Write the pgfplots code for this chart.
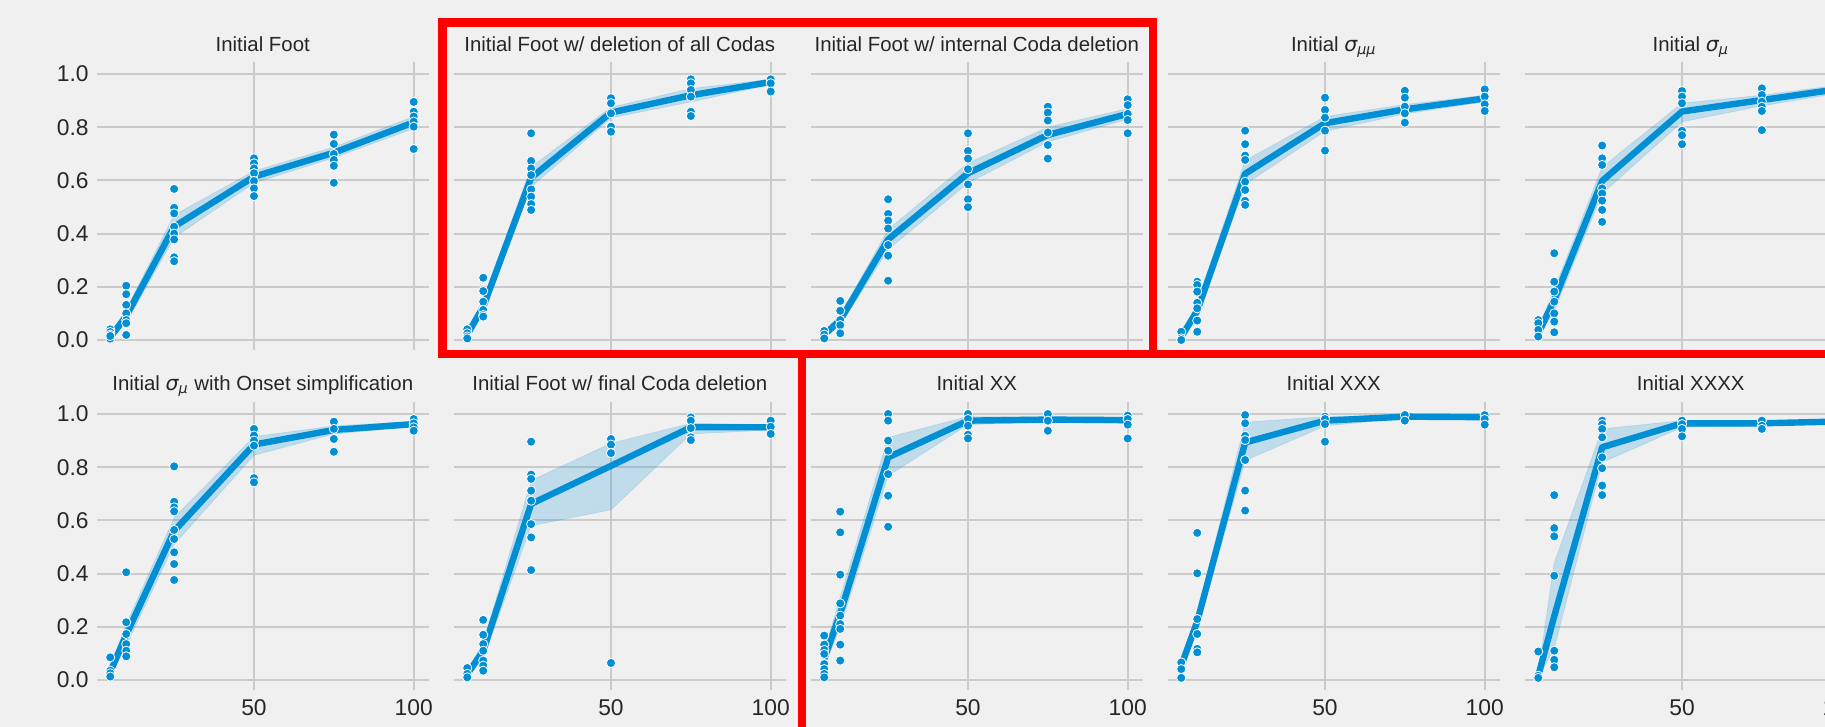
\documentclass[border=0pt]{standalone}
\usepackage{fontspec}
\setmainfont{Liberation Sans}
\newfontfamily\dejavu{DejaVu Sans}
\usepackage{pgfplots}
\pgfplotsset{compat=1.18}
\usepackage{pgfplotstable}
\definecolor{bg}{HTML}{F0F0F0}
\definecolor{b538}{HTML}{008FD5}
\definecolor{gridc}{HTML}{CBCBCB}
\definecolor{txt}{HTML}{262626}
\definecolor{redbox}{HTML}{FF0000}
\newcommand\sig[1]{{\dejavu\itshape σ}\textsubscript{\dejavu\itshape #1}}

\pgfplotsset{
 every axis title/.style={at={(0.5,1)}, anchor=base, yshift=5pt,
   font=\fontsize{10.2}{12}\selectfont, text=txt},
 panel/.style={
   scale only axis, width=165.75pt, height=144pt,
   xmin=0.85, xmax=104.64, ymin=-0.0376, ymax=1.0451,
   axis line style={draw=none}, tick style={draw=none}, major tick length=0pt,
   grid=major, grid style={draw=gridc, line width=1pt},
   xtick={50,100}, ytick={0,0.2,0.4,0.6,0.8,1.0},
   xticklabels={}, yticklabels={},
   tick label style={font=\fontsize{11.4}{13}\selectfont, text=txt},
   anchor=south west,
 },
 ylab/.style={yticklabels={0.0,0.2,0.4,0.6,0.8,1.0}, yticklabel style={xshift=-0.7pt}},
 xlab/.style={xticklabels={50,100}, xticklabel style={yshift=-1.2pt}},
 bottomtitle/.style={title style={yshift=0.5pt}},
}

% ---------- data: mean line ----------
\pgfplotstableread[row sep=\\]{x m\\ 5 0.010\\ 10 0.090\\ 25 0.426\\ 50 0.614\\ 75 0.704\\ 100 0.818\\}\mA
\pgfplotstableread[row sep=\\]{x m\\ 5 0.020\\ 10 0.125\\ 25 0.610\\ 50 0.855\\ 75 0.920\\ 100 0.970\\}\mB
\pgfplotstableread[row sep=\\]{x m\\ 5 0.020\\ 10 0.075\\ 25 0.378\\ 50 0.627\\ 75 0.771\\ 100 0.850\\}\mC
\pgfplotstableread[row sep=\\]{x m\\ 5 0.012\\ 10 0.110\\ 25 0.625\\ 50 0.815\\ 75 0.867\\ 100 0.908\\}\mD
\pgfplotstableread[row sep=\\]{x m\\ 5 0.025\\ 10 0.150\\ 25 0.598\\ 50 0.859\\ 75 0.902\\ 100 0.945\\}\mE
\pgfplotstableread[row sep=\\]{x m\\ 5 0.030\\ 10 0.170\\ 25 0.560\\ 50 0.885\\ 75 0.940\\ 100 0.962\\}\mF
\pgfplotstableread[row sep=\\]{x m\\ 5 0.022\\ 10 0.110\\ 25 0.662\\ 50 0.805\\ 75 0.950\\ 100 0.950\\}\mG
\pgfplotstableread[row sep=\\]{x m\\ 5 0.080\\ 10 0.250\\ 25 0.837\\ 50 0.975\\ 75 0.979\\ 100 0.977\\}\mH
\pgfplotstableread[row sep=\\]{x m\\ 5 0.054\\ 10 0.220\\ 25 0.893\\ 50 0.975\\ 75 0.990\\ 100 0.988\\}\mI
\pgfplotstableread[row sep=\\]{x m\\ 5 0.016\\ 10 0.240\\ 25 0.875\\ 50 0.965\\ 75 0.965\\ 100 0.972\\}\mJ

% ---------- data: 95% band (lower edge left to right, upper edge right to left) ----------
\pgfplotstableread[row sep=\\]{x y\\ 5 0.003\\ 10 0.065\\ 25 0.385\\ 50 0.590\\ 75 0.685\\ 100 0.795\\ 100 0.840\\ 75 0.725\\ 50 0.635\\ 25 0.470\\ 10 0.115\\ 5 0.020\\}\bA
\pgfplotstableread[row sep=\\]{x y\\ 5 0.010\\ 10 0.105\\ 25 0.575\\ 50 0.835\\ 75 0.895\\ 100 0.960\\ 100 0.980\\ 75 0.945\\ 50 0.875\\ 25 0.650\\ 10 0.150\\ 5 0.030\\}\bB
\pgfplotstableread[row sep=\\]{x y\\ 5 0.008\\ 10 0.055\\ 25 0.340\\ 50 0.590\\ 75 0.745\\ 100 0.830\\ 100 0.870\\ 75 0.800\\ 50 0.665\\ 25 0.415\\ 10 0.095\\ 5 0.030\\}\bC
\pgfplotstableread[row sep=\\]{x y\\ 5 0.004\\ 10 0.080\\ 25 0.585\\ 50 0.785\\ 75 0.850\\ 100 0.895\\ 100 0.920\\ 75 0.885\\ 50 0.840\\ 25 0.675\\ 10 0.140\\ 5 0.020\\}\bD
\pgfplotstableread[row sep=\\]{x y\\ 5 0.010\\ 10 0.110\\ 25 0.550\\ 50 0.820\\ 75 0.880\\ 100 0.930\\ 100 0.960\\ 75 0.920\\ 50 0.890\\ 25 0.650\\ 10 0.190\\ 5 0.045\\}\bE
\pgfplotstableread[row sep=\\]{x y\\ 5 0.015\\ 10 0.130\\ 25 0.510\\ 50 0.845\\ 75 0.925\\ 100 0.953\\ 100 0.972\\ 75 0.955\\ 50 0.915\\ 25 0.610\\ 10 0.210\\ 5 0.050\\}\bF
\pgfplotstableread[row sep=\\]{x y\\ 5 0.010\\ 10 0.080\\ 25 0.580\\ 50 0.640\\ 75 0.925\\ 100 0.940\\ 100 0.960\\ 75 0.965\\ 50 0.890\\ 25 0.750\\ 10 0.140\\ 5 0.035\\}\bG
\pgfplotstableread[row sep=\\]{x y\\ 5 0.050\\ 10 0.200\\ 25 0.768\\ 50 0.960\\ 75 0.970\\ 100 0.965\\ 100 0.988\\ 75 0.988\\ 50 0.990\\ 25 0.912\\ 10 0.310\\ 5 0.110\\}\bH
\pgfplotstableread[row sep=\\]{x y\\ 5 0.035\\ 10 0.190\\ 25 0.825\\ 50 0.955\\ 75 0.985\\ 100 0.980\\ 100 0.995\\ 75 0.996\\ 50 0.990\\ 25 0.969\\ 10 0.250\\ 5 0.070\\}\bI
\pgfplotstableread[row sep=\\]{x y\\ 5 0.008\\ 10 0.120\\ 25 0.818\\ 50 0.950\\ 75 0.955\\ 100 0.965\\ 100 0.980\\ 75 0.972\\ 50 0.975\\ 25 0.944\\ 10 0.440\\ 5 0.030\\}\bJ

% ---------- data: individual runs ----------
\pgfplotstableread[row sep=\\]{x y\\ 5 0.040\\ 5 0.030\\ 5 0.020\\ 5 0.010\\ 5 0.005\\ 5 0.015\\
10 0.204\\ 10 0.172\\ 10 0.132\\ 10 0.100\\ 10 0.075\\ 10 0.063\\ 10 0.019\\
25 0.568\\ 25 0.497\\ 25 0.476\\ 25 0.426\\ 25 0.400\\ 25 0.378\\ 25 0.311\\ 25 0.296\\
50 0.683\\ 50 0.664\\ 50 0.645\\ 50 0.627\\ 50 0.598\\ 50 0.570\\ 50 0.541\\
75 0.772\\ 75 0.737\\ 75 0.699\\ 75 0.677\\ 75 0.655\\ 75 0.591\\
100 0.895\\ 100 0.858\\ 100 0.840\\ 100 0.821\\ 100 0.802\\ 100 0.718\\}\pA
\pgfplotstableread[row sep=\\]{x y\\ 5 0.040\\ 5 0.025\\ 5 0.013\\ 5 0.006\\
10 0.234\\ 10 0.184\\ 10 0.144\\ 10 0.113\\ 10 0.094\\ 10 0.088\\
25 0.777\\ 25 0.673\\ 25 0.645\\ 25 0.620\\ 25 0.566\\ 25 0.539\\ 25 0.511\\ 25 0.489\\
50 0.909\\ 50 0.890\\ 50 0.852\\ 50 0.802\\ 50 0.783\\
75 0.980\\ 75 0.965\\ 75 0.940\\ 75 0.915\\ 75 0.858\\ 75 0.842\\
100 0.980\\ 100 0.965\\ 100 0.934\\}\pB
\pgfplotstableread[row sep=\\]{x y\\ 5 0.034\\ 5 0.020\\ 5 0.006\\
10 0.147\\ 10 0.110\\ 10 0.075\\ 10 0.056\\ 10 0.025\\
25 0.529\\ 25 0.474\\ 25 0.449\\ 25 0.419\\ 25 0.357\\ 25 0.317\\ 25 0.223\\
50 0.777\\ 50 0.711\\ 50 0.682\\ 50 0.642\\ 50 0.585\\ 50 0.529\\ 50 0.499\\
75 0.877\\ 75 0.855\\ 75 0.825\\ 75 0.780\\ 75 0.733\\ 75 0.682\\
100 0.905\\ 100 0.883\\ 100 0.850\\ 100 0.827\\ 100 0.777\\}\pC
\pgfplotstableread[row sep=\\]{x y\\ 5 0.031\\ 5 0.006\\ 5 0.000\\
10 0.219\\ 10 0.207\\ 10 0.182\\ 10 0.140\\ 10 0.119\\ 10 0.073\\ 10 0.031\\
25 0.787\\ 25 0.736\\ 25 0.693\\ 25 0.677\\ 25 0.595\\ 25 0.564\\ 25 0.523\\ 25 0.508\\
50 0.911\\ 50 0.865\\ 50 0.836\\ 50 0.787\\ 50 0.712\\
75 0.937\\ 75 0.911\\ 75 0.877\\ 75 0.852\\ 75 0.817\\
100 0.942\\ 100 0.915\\ 100 0.886\\ 100 0.861\\}\pD
\pgfplotstableread[row sep=\\]{x y\\ 5 0.075\\ 5 0.063\\ 5 0.038\\ 5 0.013\\
10 0.326\\ 10 0.219\\ 10 0.182\\ 10 0.144\\ 10 0.100\\ 10 0.069\\ 10 0.029\\
25 0.731\\ 25 0.683\\ 25 0.658\\ 25 0.570\\ 25 0.551\\ 25 0.524\\ 25 0.489\\ 25 0.444\\
50 0.936\\ 50 0.915\\ 50 0.890\\ 50 0.787\\ 50 0.770\\ 50 0.736\\
75 0.946\\ 75 0.921\\ 75 0.896\\ 75 0.877\\ 75 0.861\\ 75 0.789\\
100 0.970\\ 100 0.950\\ 100 0.930\\}\pE
\pgfplotstableread[row sep=\\]{x y\\ 5 0.085\\ 5 0.035\\ 5 0.025\\ 5 0.013\\
10 0.405\\ 10 0.217\\ 10 0.173\\ 10 0.135\\ 10 0.110\\ 10 0.089\\
25 0.803\\ 25 0.670\\ 25 0.649\\ 25 0.634\\ 25 0.564\\ 25 0.530\\ 25 0.480\\ 25 0.436\\ 25 0.376\\
50 0.944\\ 50 0.919\\ 50 0.900\\ 50 0.881\\ 50 0.759\\ 50 0.743\\
75 0.971\\ 75 0.944\\ 75 0.906\\ 75 0.858\\
100 0.981\\ 100 0.965\\ 100 0.950\\ 100 0.937\\}\pF
\pgfplotstableread[row sep=\\]{x y\\ 5 0.045\\ 5 0.023\\ 5 0.010\\
10 0.226\\ 10 0.170\\ 10 0.135\\ 10 0.110\\ 10 0.073\\ 10 0.054\\ 10 0.035\\
25 0.896\\ 25 0.772\\ 25 0.756\\ 25 0.712\\ 25 0.674\\ 25 0.586\\ 25 0.536\\ 25 0.413\\
50 0.906\\ 50 0.885\\ 50 0.853\\ 50 0.064\\
75 0.987\\ 75 0.975\\ 75 0.947\\ 75 0.912\\ 75 0.902\\
100 0.975\\ 100 0.952\\ 100 0.925\\}\pG
\pgfplotstableread[row sep=\\]{x y\\ 5 0.167\\ 5 0.133\\ 5 0.113\\ 5 0.098\\ 5 0.060\\ 5 0.041\\ 5 0.023\\ 5 0.010\\
10 0.633\\ 10 0.555\\ 10 0.396\\ 10 0.288\\ 10 0.242\\ 10 0.210\\ 10 0.192\\ 10 0.133\\ 10 0.073\\
25 1.000\\ 25 0.975\\ 25 0.900\\ 25 0.862\\ 25 0.774\\ 25 0.693\\ 25 0.576\\
50 1.000\\ 50 0.981\\ 50 0.956\\ 50 0.922\\ 50 0.908\\
75 1.000\\ 75 0.975\\ 75 0.937\\
100 0.994\\ 100 0.981\\ 100 0.960\\ 100 0.908\\}\pH
\pgfplotstableread[row sep=\\]{x y\\ 5 0.066\\ 5 0.041\\ 5 0.008\\
10 0.553\\ 10 0.401\\ 10 0.229\\ 10 0.173\\ 10 0.117\\ 10 0.104\\
25 0.996\\ 25 0.965\\ 25 0.918\\ 25 0.902\\ 25 0.827\\ 25 0.712\\ 25 0.637\\
50 0.990\\ 50 0.981\\ 50 0.962\\ 50 0.896\\
75 0.996\\ 75 0.975\\
100 0.996\\ 100 0.981\\ 100 0.960\\}\pI
\pgfplotstableread[row sep=\\]{x y\\ 5 0.107\\ 5 0.016\\ 5 0.008\\
10 0.695\\ 10 0.571\\ 10 0.540\\ 10 0.392\\ 10 0.110\\ 10 0.076\\ 10 0.048\\
25 0.975\\ 25 0.962\\ 25 0.944\\ 25 0.912\\ 25 0.837\\ 25 0.796\\ 25 0.731\\ 25 0.695\\
50 0.975\\ 50 0.962\\ 50 0.944\\ 50 0.916\\
75 0.975\\ 75 0.956\\ 75 0.944\\
100 0.980\\ 100 0.970\\ 100 0.960\\}\pJ

\newcommand\panel[7]{%
\begin{axis}[panel, at={(#1,#2)}, title={#3}, #4]
\addplot[fill=b538, fill opacity=0.2, draw=b538, draw opacity=0.15, line width=0.4pt] table[x=x,y=y]{#6} -- cycle;
\addplot[b538, line width=3.2pt, line join=round] table[x=x,y=m]{#5};
\addplot[only marks, mark=*, mark size=2.3pt, mark options={fill=b538, draw=white, line width=0.4pt}] table[x=x,y=y]{#7};
\end{axis}}

\begin{document}
\begin{tikzpicture}
\fill[bg] (0,0) rectangle (912.5pt,363.5pt);
\begin{scope}
\clip (0,0) rectangle (912.5pt,363.5pt);
% top row
\panel{48.5pt}{188.5pt}{Initial Foot}{ylab}{\mA}{\bA}{\pA}
\panel{227pt}{188.5pt}{Initial Foot w/ deletion of all Codas}{}{\mB}{\bB}{\pB}
\panel{405.5pt}{188.5pt}{Initial Foot w/ internal Coda deletion}{}{\mC}{\bC}{\pC}
\panel{584pt}{188.5pt}{Initial \sig{μμ}}{}{\mD}{\bD}{\pD}
\panel{762.5pt}{188.5pt}{Initial \sig{μ}}{}{\mE}{\bE}{\pE}
% bottom row
\panel{48.5pt}{18.5pt}{Initial \sig{μ} with Onset simplification}{ylab,xlab,bottomtitle}{\mF}{\bF}{\pF}
\panel{227pt}{18.5pt}{Initial Foot w/ final Coda deletion}{xlab,bottomtitle}{\mG}{\bG}{\pG}
\panel{405.5pt}{18.5pt}{Initial XX}{xlab,bottomtitle}{\mH}{\bH}{\pH}
\panel{584pt}{18.5pt}{Initial XXX}{xlab,bottomtitle}{\mI}{\bI}{\pI}
\panel{762.5pt}{18.5pt}{Initial XXXX}{xlab,bottomtitle}{\mJ}{\bJ}{\pJ}
% red highlight frames
\draw[redbox, line width=4.2pt] (221.25pt,186.4pt) rectangle (576.4pt,352.25pt);
\draw[redbox, line width=4.2pt] (576.4pt,186.4pt) -- (920pt,186.4pt);
\draw[redbox, line width=4.1pt] (401pt,186.4pt) -- (401pt,-5pt);
\end{scope}
\pgfresetboundingbox
\path[use as bounding box] (0,0) rectangle (912.5pt,363.5pt);
\end{tikzpicture}
\end{document}
